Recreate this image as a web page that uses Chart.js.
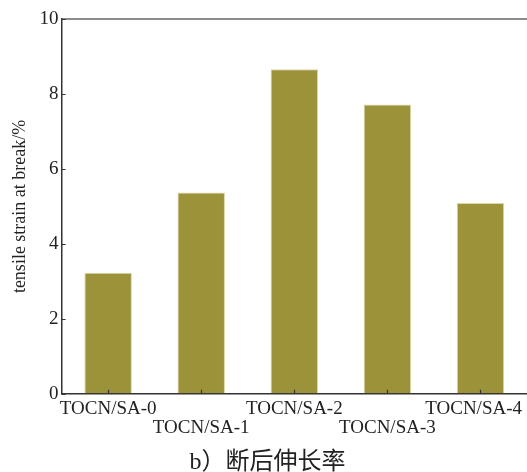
<!DOCTYPE html>
<html>
<head>
<meta charset="utf-8">
<script src="https://cdn.jsdelivr.net/npm/chart.js@4/dist/chart.umd.min.js"></script>
<style>
  html, body { margin: 0; padding: 0; background: #fff; }
  #wrap { width: 527px; height: 472px; }
</style>
</head>
<body>
<div id="wrap"><canvas id="c" width="527" height="472"></canvas></div>
<script>
// Samples and elongation at break (%)
const samples = ['TOCN/SA-0', 'TOCN/SA-1', 'TOCN/SA-2', 'TOCN/SA-3', 'TOCN/SA-4'];
const strainAtBreak = [3.23, 5.37, 8.66, 7.72, 5.09];
const yTicks = [0, 2, 4, 6, 8, 10];

const serif = '"Liberation Serif", "Times New Roman", serif';
const ink = '#222';

// Inward tick marks, the top frame line, and the staggered category labels
const frame = {
  id: 'frame',
  afterDraw(chart) {
    const { ctx, chartArea: a, scales: { x, y } } = chart;
    ctx.save();
    ctx.strokeStyle = '#666';
    ctx.lineWidth = 1.5;
    ctx.beginPath();
    ctx.moveTo(a.left, a.top);
    ctx.lineTo(chart.width, a.top);
    ctx.stroke();
    ctx.strokeStyle = '#333';
    ctx.lineWidth = 1.2;
    ctx.beginPath();
    yTicks.forEach(v => {
      const py = Math.round(y.getPixelForValue(v)) + 0.5;
      ctx.moveTo(a.left, py);
      ctx.lineTo(a.left + 4, py);
    });
    samples.forEach((s, i) => {
      const px = Math.round(x.getPixelForValue(i)) + 0.5;
      ctx.moveTo(px, a.bottom);
      ctx.lineTo(px, a.bottom - 4);
    });
    ctx.stroke();

    // category labels on two alternating rows, kept inside the canvas
    ctx.font = '19px ' + serif;
    ctx.fillStyle = ink;
    ctx.textBaseline = 'alphabetic';
    ctx.textAlign = 'left';
    samples.forEach((s, i) => {
      const w = ctx.measureText(s).width;
      let lx = x.getPixelForValue(i) - w / 2;
      lx = Math.min(lx, chart.width - 5 - w);
      const ly = a.bottom + (i % 2 === 0 ? 20 : 39);
      ctx.fillText(s, lx, ly);
    });
    ctx.restore();
  }
};

new Chart(document.getElementById('c'), {
  type: 'bar',
  data: {
    labels: samples,
    datasets: [{
      data: strainAtBreak,
      backgroundColor: '#9b9239',
      borderColor: '#ddd6a6',
      borderWidth: 1,
      borderSkipped: 'bottom',
      categoryPercentage: 1,
      barPercentage: 0.51
    }]
  },
  options: {
    responsive: false,
    animation: false,
    layout: { padding: { left: 5, right: -3, top: 19, bottom: 0 } },
    plugins: {
      legend: { display: false },
      tooltip: { enabled: false },
      title: {
        display: true,
        position: 'bottom',
        text: 'b）断后伸长率',
        color: ink,
        font: { family: serif + ', "Noto Sans CJK SC"', size: 24, weight: 'normal', lineHeight: 0.8 },
        padding: { top: 59, bottom: 0 }
      }
    },
    scales: {
      x: {
        offset: true,
        grid: { display: true, drawOnChartArea: false, drawTicks: false },
        border: { display: true, color: '#333', width: 1.5 },
        ticks: { display: false }
      },
      y: {
        min: 0,
        max: 10,
        afterBuildTicks: s => { s.ticks = yTicks.map(v => ({ value: v })); },
        grid: { display: true, drawOnChartArea: false, drawTicks: false },
        border: { display: true, color: '#333', width: 1.5 },
        ticks: {
          color: ink,
          padding: 3,
          font: { family: serif, size: 19 }
        },
        title: {
          display: true,
          text: 'tensile strain at break/%',
          color: ink,
          font: { family: serif, size: 18 },
          padding: { top: 4, bottom: 6 }
        }
      }
    }
  },
  plugins: [frame]
});
</script>
</body>
</html>
